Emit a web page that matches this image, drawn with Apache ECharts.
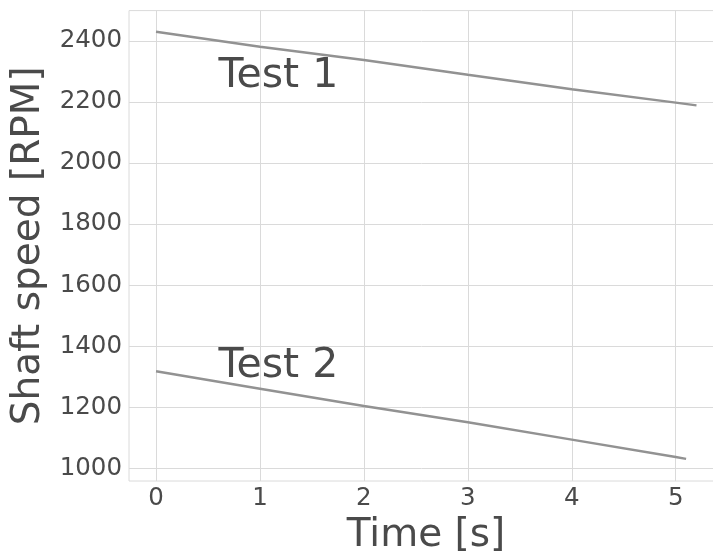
<!DOCTYPE html>
<html>
<head>
<meta charset="utf-8">
<script src="https://cdn.jsdelivr.net/npm/echarts@6/dist/echarts.min.js"></script>
<style>
  html, body { margin: 0; padding: 0; background: #fff; }
  #chart { width: 713px; height: 552px; }
</style>
</head>
<body>
<div id="chart"></div>
<script>
// Shaft speed run-down for two tests, sampled once per second
const test1Time = [0, 1, 2, 3, 4, 5, 5.2];
const test1Rpm = [2430, 2381, 2338, 2289, 2242, 2198, 2189];
const test2Time = [0, 1, 2, 3, 4, 5, 5.1];
const test2Rpm = [1318, 1261, 1204, 1151, 1094, 1037, 1031];

// Axis ticks
const xTicks = [0, 1, 2, 3, 4, 5];
const yTicks = [1000, 1200, 1400, 1600, 1800, 2000, 2200, 2400];

// Annotation texts and their anchor points (data coordinates)
const noteText = ['Test 1', 'Test 2'];
const noteX = [0.6, 0.6];
const noteY = [2250, 1300];

const FONT = 'DejaVu Sans';
const TEXT = '#4a4a4a';
const GRID = '#dadada';
const LINE = '#929292';

function pairs(xs, ys) { return xs.map((x, i) => [x, ys[i]]); }

const chart = echarts.init(document.getElementById('chart'), null, { renderer: 'canvas' });

chart.setOption({
  animation: false,
  backgroundColor: '#ffffff',
  grid: {
    left: 129, top: 10.6, right: -10, bottom: 71,
    outerBoundsMode: 'none',
    containLabel: false,
    show: true, borderColor: GRID, borderWidth: 1, backgroundColor: '#ffffff'
  },
  xAxis: {
    type: 'value',
    min: -0.26, max: 5.455,
    name: 'Time [s]',
    nameLocation: 'middle',
    nameGap: 35,
    nameTextStyle: { fontFamily: FONT, fontSize: 39, color: TEXT },
    axisLine: { show: false },
    axisTick: { show: false, customValues: xTicks },
    axisLabel: { customValues: xTicks, fontFamily: FONT, fontSize: 24.5, color: TEXT, margin: 5 },
    splitLine: { show: true, lineStyle: { color: GRID, width: 1 } }
  },
  yAxis: {
    type: 'value',
    min: 958.5, max: 2499.5,
    name: 'Shaft speed [RPM]',
    nameLocation: 'middle',
    nameGap: 71,
    nameTextStyle: { fontFamily: FONT, fontSize: 39, color: TEXT },
    axisLine: { show: false },
    axisTick: { show: false, customValues: yTicks },
    axisLabel: {
      customValues: yTicks, formatter: v => String(v),
      fontFamily: FONT, fontSize: 24.5, color: TEXT, margin: 7
    },
    splitLine: { show: true, lineStyle: { color: GRID, width: 1 } }
  },
  series: [
    {
      name: 'Test 1', type: 'line', data: pairs(test1Time, test1Rpm),
      showSymbol: false, lineStyle: { color: LINE, width: 2.5 }, z: 3
    },
    {
      name: 'Test 2', type: 'line', data: pairs(test2Time, test2Rpm),
      showSymbol: false, lineStyle: { color: LINE, width: 2.5 }, z: 3
    },
    {
      type: 'scatter',
      data: noteText.map((t, i) => ({ value: [noteX[i], noteY[i]], name: t })),
      symbolSize: 0,
      silent: true,
      itemStyle: { opacity: 1 },
      label: {
        show: true,
        formatter: p => p.name,
        position: [0, 0],
        align: 'left',
        verticalAlign: 'bottom',
        offset: [0, 10],
        opacity: 1,
        fontFamily: FONT, fontSize: 41, color: TEXT
      },
      z: 4
    }
  ]
});
</script>
</body>
</html>
